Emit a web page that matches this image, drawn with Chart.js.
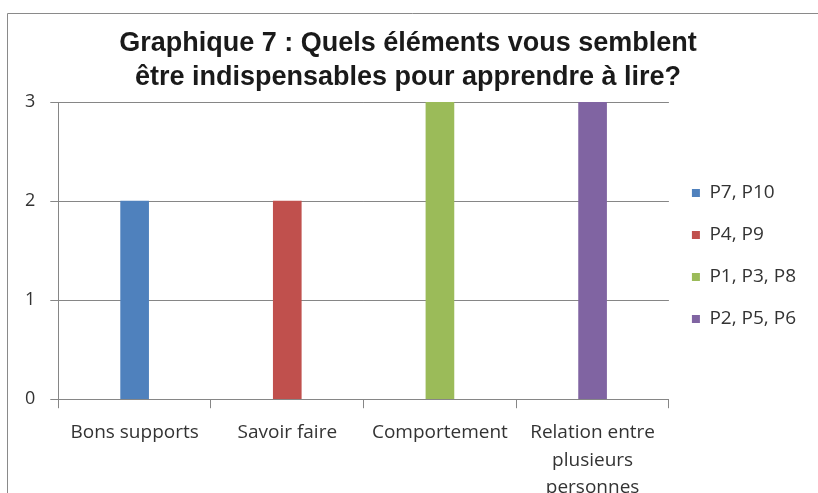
<!DOCTYPE html>
<html>
<head>
<meta charset="utf-8">
<script src="https://cdn.jsdelivr.net/npm/chart.js@4/dist/chart.umd.min.js"></script>
<style>
  html, body { margin: 0; padding: 0; background: #fff; overflow: hidden; }
  #wrap { width: 818px; height: 512px; }
</style>
</head>
<body>
<div id="wrap"><canvas id="chart"></canvas></div>
<script>
// Réponses au graphique 7
const categories = ['Bons supports', 'Savoir faire', 'Comportement', ['Relation entre', 'plusieurs', 'personnes']];
const groups = ['P7, P10', 'P4, P9', 'P1, P3, P8', 'P2, P5, P6'];
const counts = [2, 2, 3, 3];
const yTicks = [0, 1, 2, 3];
const colors = ['#4F81BD', '#C0504D', '#9BBB59', '#8064A2'];

// one series per group, only filled in its own category
const datasets = groups.map((name, i) => ({
  label: name,
  data: categories.map((_, j) => (j === i ? counts[i] : null)),
  backgroundColor: colors[i],
  barThickness: 28,
  skipNull: true
}));

// thin grey frame on the top and left edges
const frame = {
  id: 'frame',
  beforeDraw(chart) {
    const c = chart.ctx;
    c.save();
    c.strokeStyle = '#8a8a8a';
    c.lineWidth = 1;
    c.beginPath();
    c.moveTo(7.5, chart.height);
    c.lineTo(7.5, 13.5);
    c.lineTo(chart.width, 13.5);
    c.stroke();
    c.restore();
  }
};

const textFont = '"Open Sans", Lato, sans-serif';

new Chart(document.getElementById('chart'), {
  type: 'bar',
  data: { labels: categories, datasets },
  plugins: [frame],
  options: {
    responsive: true,
    maintainAspectRatio: false,
    animation: false,
    layout: { padding: { top: 0, right: 12, bottom: 0, left: 10 } },
    plugins: {
      title: {
        display: true,
        text: ['Graphique 7 : Quels éléments vous semblent', 'être indispensables pour apprendre à lire?'],
        color: '#1a1a1a',
        font: { family: '"Liberation Sans", Arial, sans-serif', size: 27, weight: 'bold', lineHeight: 1.26 },
        padding: { top: 27, bottom: 7 }
      },
      legend: {
        position: 'right',
        labels: {
          boxWidth: 8,
          boxHeight: 8,
          padding: 23,
          color: '#333',
          font: { family: textFont, size: 19 }
        }
      },
      tooltip: { enabled: false }
    },
    scales: {
      x: {
        grid: { display: true, drawOnChartArea: false, drawTicks: true, tickLength: 9, color: '#868686', offset: true },
        border: { color: '#868686' },
        ticks: {
          color: '#333',
          font: { family: textFont, size: 19, lineHeight: 1.47 },
          padding: 10,
          maxRotation: 0,
          autoSkip: false
        }
      },
      y: {
        min: 0,
        max: 3,
        afterBuildTicks(axis) { axis.ticks = yTicks.map(v => ({ value: v })); },
        grid: { color: '#868686', tickLength: 8 },
        border: { color: '#868686' },
        ticks: { color: '#333', font: { family: textFont, size: 18 }, padding: 15 }
      }
    }
  }
});
</script>
</body>
</html>
